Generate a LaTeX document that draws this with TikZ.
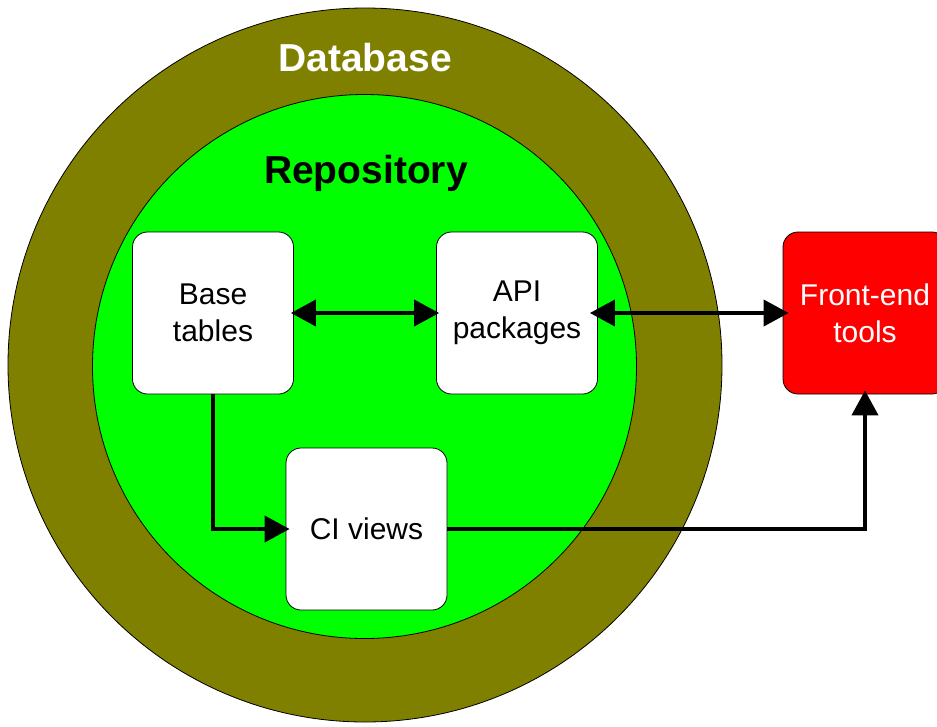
\documentclass[tikz,border=0pt]{standalone}
\usepackage{fontspec}
\setmainfont{Liberation Sans}
\usetikzlibrary{arrows.meta}
\definecolor{dbolive}{HTML}{808000}
\definecolor{repogreen}{HTML}{00FF00}
\definecolor{toolred}{HTML}{FF0000}
\begin{document}
\begin{tikzpicture}[x=1pt,y=-1pt,
  ring/.style={circle,draw=black,line width=0.8pt,inner sep=0pt},
  block/.style={draw=black,line width=0.8pt,rounded corners=15pt,fill=white,
    minimum width=161pt,minimum height=162pt,align=center,inner sep=0pt,
    font=\fontsize{30}{37}\selectfont},
  title/.style={anchor=base,font=\fontsize{39}{44}\selectfont\bfseries},
  link/.style={line width=4pt,-{Triangle[length=25pt,width=26pt]}},
  biglink/.style={line width=4pt,{Triangle[length=25pt,width=26pt]}-{Triangle[length=25pt,width=26pt]}}]
\useasboundingbox (0,0) rectangle (937,726);
\fill[white] (0,0) rectangle (937,726);

% nested layers
\node[ring,fill=dbolive,minimum size=714pt] (db) at (365,365) {};
\node[ring,fill=repogreen,minimum size=544pt] (repo) at (364.5,366.5) {};
\node[title,text=white] (dbt) at (365,71) {Database};
\node[title,text=black] (repot) at (366,183) {Repository};

% components
\node[block] (base) at (213,313) {Base\\tables};
\node[block] (api) at (517,313) {API\\packages};
\node[block] (ci) at (366.5,529) {CI views};
\node[block,fill=toolred,text=white,minimum width=164pt] (front) at (865,313) {Front-end\\tools};

% connectors
\draw[biglink,shorten <=-3pt,shorten >=-3pt] (base.east) -- (api.west);
\draw[biglink,shorten <=-8pt,shorten >=-6pt] (api.east) -- (front.west);
\draw[link,shorten >=-4pt] (base.south) |- (ci.west);
\draw[link,shorten >=-4pt] (ci.east) -| (front.south);
\end{tikzpicture}
\end{document}
